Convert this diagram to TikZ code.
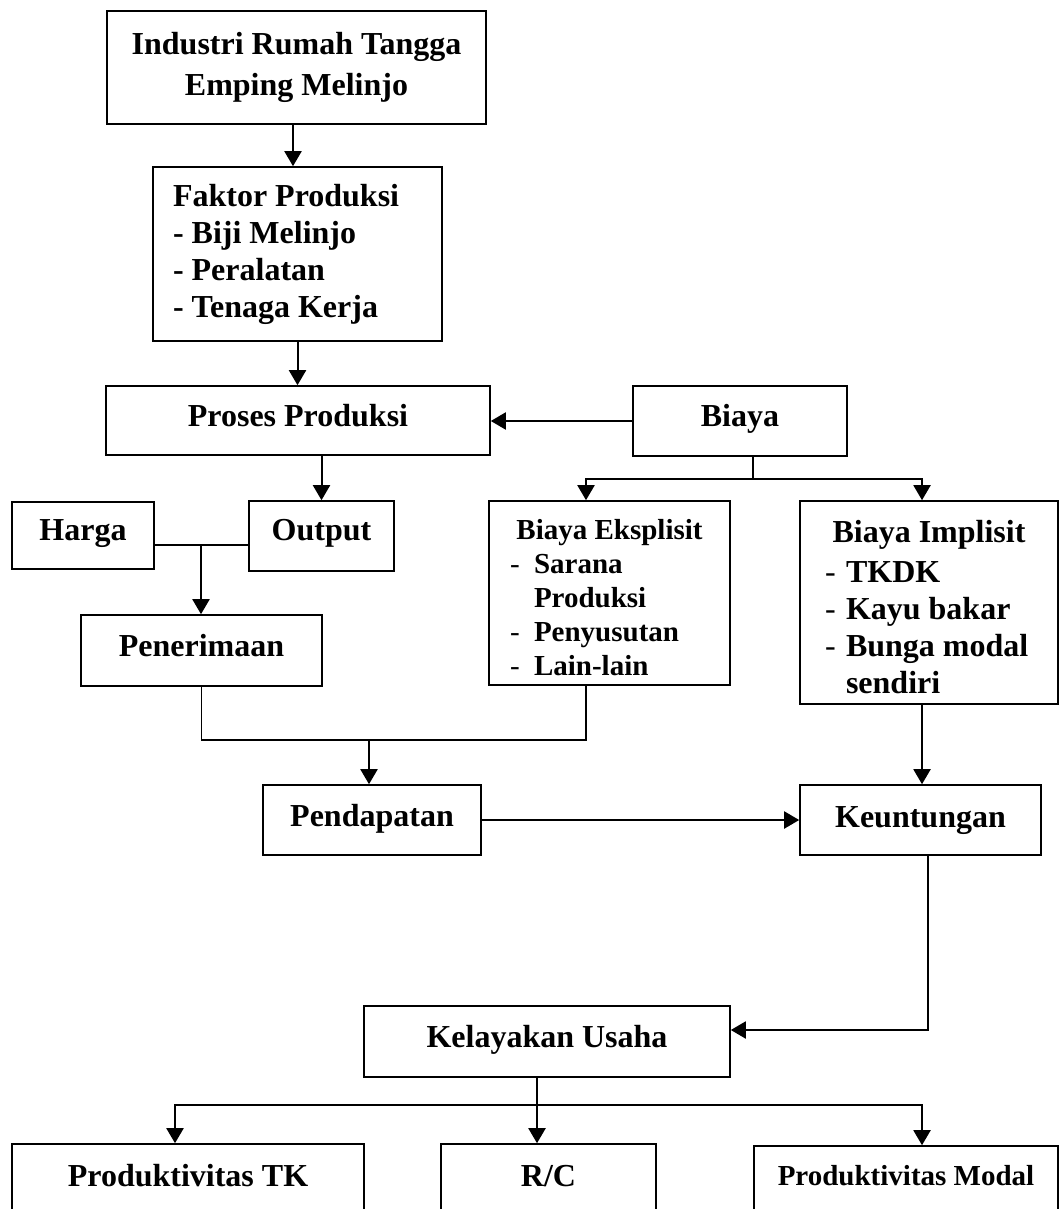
\documentclass[tikz,border=0pt]{standalone}
\usepackage{fontspec}
\setmainfont{Liberation Serif}
\usetikzlibrary{arrows.meta}
\newcommand\fbig{\fontsize{32}{37}\selectfont\bfseries}
\newcommand\fmid{\fontsize{29}{34}\selectfont\bfseries}
\newcommand\natsp{\spaceskip=0pt\xspaceskip=0pt\relax}
\begin{document}
\begin{tikzpicture}[x=1pt,y=-1pt,
  boxm/.style={draw, line width=1.6pt, inner ysep=0pt},
  box/.style={draw, line width=1.6pt, inner sep=0pt, font=\fbig, align=center, text height=22pt, text depth=11pt},
  arr/.style={line width=2pt, -{Triangle[length=15pt,width=17pt]}},
  ln/.style={line width=1.6pt}]
\useasboundingbox (0,0) rectangle (1059,1209);
\fill[white] (0,0) rectangle (1059,1209);
\clip (0,0) rectangle (1059,1209);

% boxes
\node[boxm, minimum width=379, minimum height=113, align=center, font=\fontsize{32}{41}\selectfont\bfseries] (ind) at (296.5,67.5) {Industri Rumah Tangga\\Emping Melinjo};
\node[boxm, text width=249pt, inner xsep=20pt, minimum height=174, font=\fbig, align=left] (fak) at (297.5,254) {\natsp Faktor Produksi\\- Biji Melinjo\\- Peralatan\\- Tenaga Kerja};
\node[box, minimum width=384, minimum height=69] (pro) at (298,420.5) {Proses Produksi};
\node[box, minimum width=214, minimum height=70, text depth=12pt] (bia) at (740,421) {Biaya};
\node[box, minimum width=142, minimum height=67, text depth=13pt] (har) at (83,535.5) {Harga};
\node[box, minimum width=145, minimum height=70, text depth=14pt] (out) at (321.5,536) {Output};
\node[box, minimum width=241, minimum height=71] (pen) at (201.5,650.5) {Penerimaan};
\node[boxm, text width=199pt, inner xsep=21pt, minimum height=184, font=\fmid, align=left] (eks) at (609.5,593)
  {\natsp\rule{0pt}{30pt}\makebox[199pt][c]{Biaya Eksplisit}\\
   \makebox[24pt][l]{\mdseries-}Sarana\\
   \hspace*{24pt}Produksi\\
   \makebox[24pt][l]{\mdseries-}Penyusutan\\
   \makebox[24pt][l]{\mdseries-}Lain-lain};
\node[boxm, text width=208pt, inner xsep=25pt, minimum height=203, font=\fbig, align=left] (imp) at (929,602.5)
  {\natsp\rule{0pt}{31pt}\makebox[208pt][c]{Biaya Implisit}\\[3pt]
   \makebox[21pt][l]{\mdseries-}TKDK\\
   \makebox[21pt][l]{\mdseries-}Kayu bakar\\
   \makebox[21pt][l]{\mdseries-}Bunga modal\\
   \hspace*{21pt}sendiri};
\node[box, minimum width=218, minimum height=70, text depth=10pt] (pdp) at (372,820) {Pendapatan};
\node[box, minimum width=241, minimum height=70, text depth=8pt] (keu) at (920.5,820) {Keuntungan};
\node[box, minimum width=366, minimum height=71] (kel) at (547,1041.5) {Kelayakan Usaha};
\node[box, minimum width=352, minimum height=68, text depth=6pt] (tk) at (188,1178) {Produktivitas TK};
\node[box, minimum width=215, minimum height=68, text depth=6pt] (rc) at (548.5,1178) {R/C};
\node[box, minimum width=304, minimum height=66, text depth=10pt, font=\fmid] (mod) at (906,1179) {Produktivitas Modal};

% helper coordinates
\coordinate (x1) at (293,0);
\coordinate (j1) at (201,545);
\coordinate (b1) at (753,479);
\coordinate (bl) at (586,479);
\coordinate (br) at (922,479);
\coordinate (j2) at (369,740);
\coordinate (k1) at (928,1030);
\coordinate (m) at (537,1105);
\coordinate (ml) at (175,1105);
\coordinate (mr) at (922,1105);

% connectors
\draw[arr] (ind.south -| x1) -- (fak.north -| x1);
\draw[arr] (fak.south) -- (fak.south |- pro.north);
\draw[arr] (bia.west) -- (pro.east |- bia.west);
\draw[arr] (out.north |- pro.south) -- (out.north);
\draw[ln] (har.east |- j1) -- (out.west |- j1);
\draw[arr] (j1) -- (j1 |- pen.north);
\draw[ln] (bia.south -| b1) -- (b1);
\draw[arr] (b1) -- (bl) -- (bl |- eks.north);
\draw[arr] (b1) -- (br) -- (br |- imp.north);
\draw[ln] (pen.south) |- (j2) -| (eks.south -| bl);
\draw[arr] (j2) -- (j2 |- pdp.north);
\draw[arr] (imp.south -| br) -- (keu.north -| br);
\draw[arr] (pdp.east) -- (keu.west);
\draw[arr] (keu.south -| k1) -- (k1) -- (kel.east |- k1);
\draw[arr] (kel.south -| m) -- (rc.north -| m);
\draw[arr] (m) -- (ml) -- (ml |- tk.north);
\draw[arr] (m) -- (mr) -- (mr |- mod.north);
\end{tikzpicture}
\end{document}
